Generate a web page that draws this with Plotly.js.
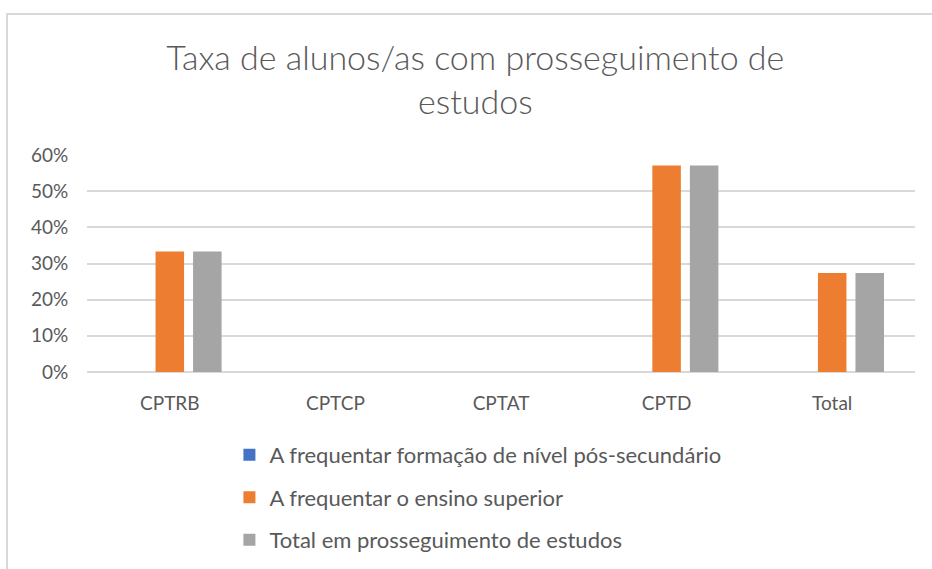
<!DOCTYPE html>
<html>
<head>
<meta charset="utf-8">
<script src="https://cdn.plot.ly/plotly-3.0.1.min.js"></script>
<style>
  body { margin: 0; background: #fff; }
  #frame { position: absolute; left: 6px; top: 13px; width: 940px; height: 600px; border-left: 2px solid #d9d9d9; border-top: 2px solid #d9d9d9; }
  #chart { position: absolute; left: 0; top: 0; width: 932px; height: 569px; }
</style>
</head>
<body>
<div id="frame"></div>
<div id="chart"></div>
<script>
var categories = ["CPTRB", "CPTCP", "CPTAT", "CPTD", "Total"];
var posSecundario = [0, 0, 0, 0, 0];
var ensinoSuperior = [0.333, 0, 0, 0.571, 0.274];
var totalProsseguimento = [0.333, 0, 0, 0.571, 0.274];
var seriesNames = [
  "A frequentar formação de nível pós-secundário",
  "A frequentar o ensino superior",
  "Total em prosseguimento de estudos"
];
var colors = ["#4472C4", "#ED7D31", "#A5A5A5"];

var txt = "#595959";
var font = "Lato, 'Open Sans', sans-serif";

var data = [posSecundario, ensinoSuperior, totalProsseguimento].map(function (vals, i) {
  return {
    type: "bar",
    x: categories,
    y: vals,
    name: seriesNames[i],
    legendgroup: "g" + i,
    marker: { color: colors[i] },
    hoverinfo: "skip"
  };
});

var layout = {
  width: 932,
  height: 569,
  paper_bgcolor: "rgba(0,0,0,0)",
  plot_bgcolor: "rgba(0,0,0,0)",
  margin: { l: 87, r: 17, t: 155, b: 197, autoexpand: false },
  font: { family: font, color: txt, size: 17 },
  title: {
    text: "Taxa de alunos/as com prosseguimento de<br>estudos",
    font: { family: font, size: 34, color: txt, weight: 300 },
    x: 0.51,
    xanchor: "center",
    yref: "container",
    y: 0.877,
    yanchor: "top"
  },
  barmode: "group",
  bargap: 0.32,
  bargroupgap: 0.24,
  xaxis: {
    showgrid: false,
    zeroline: false,
    showline: false,
    ticks: "outside",
    ticklen: 14,
    tickcolor: "rgba(0,0,0,0)",
    tickfont: { family: font, size: 19, color: txt }
  },
  yaxis: {
    range: [0, 0.6],
    dtick: 0.1,
    tickformat: ".0%",
    showgrid: true,
    gridcolor: "#d9d9d9",
    gridwidth: 2,
    zeroline: true,
    zerolinecolor: "#d9d9d9",
    zerolinewidth: 2,
    ticks: "outside",
    ticklen: 14,
    tickcolor: "rgba(0,0,0,0)",
    tickfont: { family: font, size: 19, color: txt }
  },
  showlegend: true,
  legend: {
    orientation: "v",
    x: 0.172,
    xanchor: "left",
    y: -0.285,
    yanchor: "top",
    tracegroupgap: 11,
    font: { family: font, size: 22, color: txt },
    bgcolor: "rgba(0,0,0,0)"
  }
};

Plotly.newPlot("chart", data, layout, { staticPlot: true });
</script>
</body>
</html>
